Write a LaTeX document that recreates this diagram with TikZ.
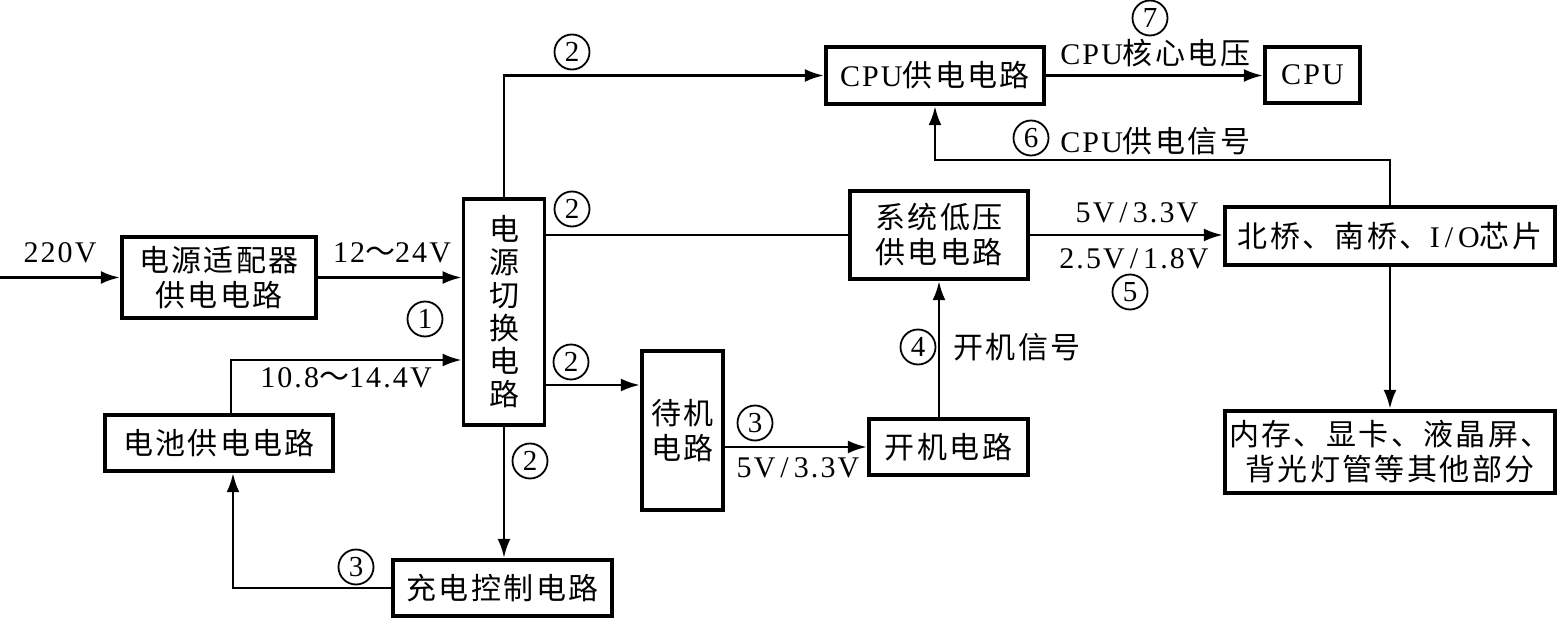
\documentclass[tikz,border=0pt]{standalone}
\usepackage{fontspec}
\setmainfont{Liberation Serif}[LetterSpace=7]
\newfontfamily\cjk{Noto Sans CJK SC}[LetterSpace=8]
\newcommand\zh[1]{{\cjk #1}}
\usetikzlibrary{arrows.meta}
\begin{document}
\begin{tikzpicture}[x=0.5pt,y=-0.5pt,
  box/.style={draw, line width=2.2pt, inner sep=0pt, align=center, font=\fontsize{15}{17.5}\selectfont},
  conn/.style={line width=1.3pt},
  arr/.style={conn, -{Latex[length=9.5pt,width=6.5pt]}},
  cn/.style={circle, draw, line width=0.9pt, inner sep=0pt, minimum size=17.5pt, font=\fontsize{14.5}{14.5}\selectfont},
  lbl/.style={inner sep=0pt, font=\fontsize{15}{17.5}\selectfont}]
\useasboundingbox (0,0) rectangle (1560,621);

% boxes
\node[box, minimum width=97pt, minimum height=40.5pt] (adapt) at (219,277.5) {\zh{电源适配器}\\\zh{供电电路}};
\node[box, line width=1.9pt, minimum width=40.5pt, minimum height=113pt, font=\fontsize{15}{16.5}\selectfont] (sw) at (504,312) {\zh{电}\\\zh{源}\\\zh{切}\\\zh{换}\\\zh{电}\\\zh{路}};
\node[box, minimum width=109pt, minimum height=28.5pt] (cpupow) at (935,75.5) {CPU\zh{供电电路}};
\node[box, minimum width=47.5pt, minimum height=28pt] (cpu) at (1312.5,75) {CPU};
\node[box, minimum width=89pt, minimum height=44pt] (syslow) at (939,235) {\zh{系统低压}\\\zh{供电电路}};
\node[box, minimum width=165pt, minimum height=29pt] (bridge) at (1390,236) {\zh{北桥、南桥、}I\,/\,O\zh{芯片}};
\node[box, minimum width=165pt, minimum height=41pt] (other) at (1390,452) {\zh{内存、显卡、液晶屏、}\\\zh{背光灯管等其他部分}};
\node[box, minimum width=79.5pt, minimum height=28pt] (pwr) at (948.5,447) {\zh{开机电路}};
\node[box, minimum width=40.5pt, minimum height=79.5pt] (standby) at (682.5,430.5) {\zh{待机}\\\zh{电路}};
\node[box, minimum width=109.5pt, minimum height=28pt] (chg) at (502.5,588) {\zh{充电控制电路}};
\node[box, minimum width=114pt, minimum height=28pt] (bat) at (219,443) {\zh{电池供电电路}};

% connectors
\coordinate (in) at (0,277.5);
\draw[arr] (in) -- (adapt.west);
\draw[arr] (adapt.east) -- (adapt.east -| sw.west);
\coordinate (swin2) at (460,360);
\draw[arr] ([xshift=6pt]bat.north) |- (swin2 -| sw.west);
\draw[arr] (chg.west) -| ([xshift=7pt]bat.south);
\draw[arr] (sw.north) |- (cpupow.west);
\draw[conn] (sw.east |- syslow.west) -- (syslow.west);
\coordinate (s2) at ([yshift=-36.5pt]sw.east);
\draw[arr] (s2) -- (s2 -| standby.west);
\draw[arr] (sw.south) -- (sw.south |- chg.north);
\draw[arr] (standby.east |- pwr.west) -- (pwr.west);
\draw[arr] (syslow.south |- pwr.north) -- (syslow.south);
\draw[arr] (syslow.east) -- (syslow.east -| bridge.west);
\coordinate (fbturn) at (935,160);
\draw[arr] (bridge.north) |- (fbturn) -- (cpupow.south);
\draw[arr] (bridge.south) -- (other.north);
\draw[arr] (cpupow.east) -- (cpupow.east -| cpu.west);

% labels
\node[lbl] (l220) at (60,253) {220V};
\node[lbl] (l1224) at (392,253) {12\zh{～}24V};
\node[cn] (c1) at (425,319) {1};
\node[lbl] (l108) at (346,378) {10.8\zh{～}14.4V};
\node[cn] (c2a) at (572,52) {2};
\node[cn] (c2b) at (572,209) {2};
\node[cn] (c2c) at (571,362) {2};
\node[cn] (c2d) at (530,461) {2};
\node[cn] (c3a) at (356,567) {3};
\node[cn] (c3b) at (755,423) {3};
\node[lbl] (l53a) at (798,468) {5V\,/\,3.3V};
\node[cn] (c4) at (918,347) {4};
\node[lbl, anchor=west] (lkj) at (953,347) {\zh{开机信号}};
\node[lbl] (l53b) at (1137,213) {5V\,/\,3.3V};
\node[lbl] (l2518) at (1134,259) {2.5V\,/\,1.8V};
\node[cn] (c5) at (1130,292) {5};
\node[cn] (c6) at (1031,138) {6};
\node[lbl, anchor=west] (lsig) at (1060,141) {CPU\zh{供电信号}};
\node[cn] (c7) at (1150,18) {7};
\node[lbl, anchor=west] (lcore) at (1060,53) {CPU\zh{核心电压}};
\end{tikzpicture}
\end{document}
